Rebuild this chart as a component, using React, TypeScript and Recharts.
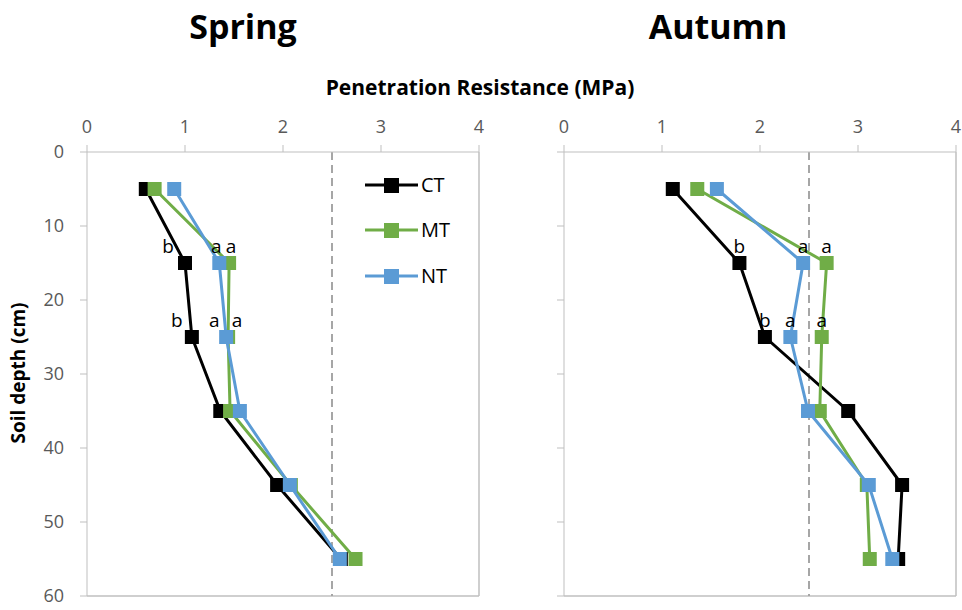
import { ScatterChart, Scatter, XAxis, YAxis, ReferenceLine } from "recharts";

const depths = [5, 15, 25, 35, 45, 55];
const xTicks = [0, 1, 2, 3, 4];
const yTicks = [0, 10, 20, 30, 40, 50, 60];

const springCT = [0.6, 1.0, 1.07, 1.36, 1.94, 2.59];
const springMT = [0.69, 1.45, 1.44, 1.46, 2.08, 2.74];
const springNT = [0.89, 1.35, 1.42, 1.56, 2.07, 2.58];
const autumnCT = [1.11, 1.79, 2.05, 2.9, 3.45, 3.41];
const autumnMT = [1.36, 2.68, 2.63, 2.61, 3.09, 3.12];
const autumnNT = [1.56, 2.44, 2.31, 2.49, 3.11, 3.35];

const ctLetters = ["", "b", "b", "", "", ""];
const mtLetters = ["", "a", "a", "", "", ""];
const ntLetters = ["", "a", "a", "", "", ""];

const FONT = "'Open Sans', Lato, sans-serif";
const AXIS = "#bfbfbf";
const TICK = "#595959";
const COLORS = { CT: "#000000", MT: "#70ad47", NT: "#5b9bd5" };

const toPoints = (values: number[], letters: string[]) =>
  values.map((v, i) => ({ x: v, y: depths[i], label: letters[i] }));

const squareShape = (color: string, dx: number[]) => (props: any) => {
  const { cx, cy, payload } = props;
  const i = depths.indexOf(payload.y);
  return (
    <g>
      <rect x={cx - 7} y={cy - 7} width={14} height={14} fill={color} />
      {payload.label ? (
        <text x={cx + (dx[i] ?? 0)} y={cy - 10} textAnchor="middle" fontSize={19} fontFamily={FONT} fill="#000">
          {payload.label}
        </text>
      ) : null}
    </g>
  );
};

const LegendBox = () => (
  <div style={{ position: "absolute", left: 365, top: 162, fontFamily: FONT }}>
    {(["CT", "MT", "NT"] as const).map((k) => (
      <div key={k} style={{ display: "flex", alignItems: "center", height: 45.5 }}>
        <svg width={54} height={16}>
          <line x1={0} y1={8} x2={53} y2={8} stroke={COLORS[k]} strokeWidth={3} />
          <rect x={19} y={1} width={15} height={15} fill={COLORS[k]} />
        </svg>
        <span style={{ fontSize: 20, marginLeft: 2, color: "#000", lineHeight: "24px" }}>{k}</span>
      </div>
    ))}
  </div>
);

interface PanelProps {
  ct: number[];
  mt: number[];
  nt: number[];
  showYLabels: boolean;
  offsets: { CT: number[]; MT: number[]; NT: number[] };
  width: number;
  margin: { top: number; right: number; bottom: number; left: number };
  yWidth: number;
}

const Panel = ({ ct, mt, nt, showYLabels, offsets, width, margin, yWidth }: PanelProps) => (
  <ScatterChart width={width} height={610} margin={margin}>
    <XAxis
      type="number"
      dataKey="x"
      orientation="top"
      domain={[0, 4]}
      ticks={xTicks}
      stroke={AXIS}
      tickSize={7}
      tickMargin={12}
      height={40}
      tick={{ fill: TICK, fontSize: 18, fontFamily: FONT }}
      allowDataOverflow
    />
    <YAxis
      type="number"
      dataKey="y"
      domain={[0, 60]}
      ticks={yTicks}
      reversed
      stroke={AXIS}
      tickSize={7}
      tickMargin={16}
      width={yWidth}
      tick={{ fill: TICK, fontSize: 18, fontFamily: FONT }}
      tickFormatter={(v: number) => (showYLabels ? String(v) : "")}
    />
    <ReferenceLine x={4} stroke={AXIS} strokeWidth={1.5} />
    <ReferenceLine y={60} stroke={AXIS} strokeWidth={1.5} />
    <ReferenceLine x={2.5} stroke="#a6a6a6" strokeWidth={2} strokeDasharray="8 5" />
    <Scatter
      name="CT"
      data={toPoints(ct, ctLetters)}
      line={{ stroke: COLORS.CT, strokeWidth: 3 }}
      shape={squareShape(COLORS.CT, offsets.CT)}
      isAnimationActive={false}
    />
    <Scatter
      name="MT"
      data={toPoints(mt, mtLetters)}
      line={{ stroke: COLORS.MT, strokeWidth: 3 }}
      shape={squareShape(COLORS.MT, offsets.MT)}
      isAnimationActive={false}
    />
    <Scatter
      name="NT"
      data={toPoints(nt, ntLetters)}
      line={{ stroke: COLORS.NT, strokeWidth: 3 }}
      shape={squareShape(COLORS.NT, offsets.NT)}
      isAnimationActive={false}
    />
  </ScatterChart>
);

export default function App() {
  return (
    <div style={{ position: "absolute", left: 0, top: 0, width: 962, height: 610, background: "#fff", fontFamily: FONT }}>
      <div style={{ position: "absolute", left: 143, width: 200, top: 3, textAlign: "center", fontSize: 34, fontWeight: 700, lineHeight: "46px" }}>
        Spring
      </div>
      <div style={{ position: "absolute", left: 618, width: 200, top: 3, textAlign: "center", fontSize: 34, fontWeight: 700, lineHeight: "46px" }}>
        Autumn
      </div>
      <div style={{ position: "absolute", left: 230, width: 500, top: 73, textAlign: "center", fontSize: 21, fontWeight: 700, lineHeight: "28px" }}>
        Penetration Resistance (MPa)
      </div>
      <div
        style={{
          position: "absolute",
          left: 18,
          top: 373,
          transform: "translate(-50%, -50%) rotate(-90deg)",
          whiteSpace: "nowrap",
          fontSize: 19,
          fontWeight: 700,
        }}
      >
        Soil depth (cm)
      </div>
      <div style={{ position: "absolute", left: 0, top: 0 }}>
        <Panel
          ct={springCT}
          mt={springMT}
          nt={springNT}
          showYLabels
          offsets={{ CT: [0, -17, -15, 0, 0, 0], MT: [0, 2, 9, 0, 0, 0], NT: [0, -3, -12, 0, 0, 0] }}
          width={490}
          margin={{ top: 112, right: 11, bottom: 14, left: 30 }}
          yWidth={57}
        />
      </div>
      <div style={{ position: "absolute", left: 490, top: 0 }}>
        <Panel
          ct={autumnCT}
          mt={autumnMT}
          nt={autumnNT}
          showYLabels={false}
          offsets={{ CT: [0, 0, 0, 0, 0, 0], MT: [0, 0, 0, 0, 0, 0], NT: [0, 0, 0, 0, 0, 0] }}
          width={472}
          margin={{ top: 112, right: 6, bottom: 14, left: 54 }}
          yWidth={20}
        />
      </div>
      <LegendBox />
    </div>
  );
}
